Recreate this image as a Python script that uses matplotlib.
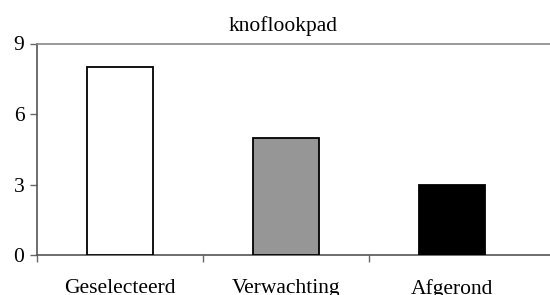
import matplotlib.pyplot as plt
import numpy as np

plt.rcParams['font.family'] = ['Liberation Serif', 'DejaVu Serif']

categorieen = ["Geselecteerd", "Verwachting", "Afgerond"]
waarden = [8, 5, 3]
kleuren = ["#ffffff", "#969696", "#000000"]
y_ticks = [0, 3, 6, 9]

fig = plt.figure(figsize=(5.5, 2.95), dpi=100)
ax = fig.add_axes([37 / 550, 1 - 255 / 295, 513 / 550, 211.5 / 295])

x = np.arange(len(categorieen))
ax.bar(x, waarden, width=0.4, color=kleuren, edgecolor="black", linewidth=1.3, zorder=3)

ax.set_xlim(-0.5, 2.59)
ax.set_ylim(0, 9)
ax.set_yticks(y_ticks)
ax.set_xticks([-0.5, 0.5, 1.5])
ax.set_xticklabels([])
ax.set_xticks(x, minor=True)
ax.set_xticklabels(categorieen, minor=True)
ax.tick_params(axis="x", which="minor", length=0, pad=17, labelsize=15.5)
ax.tick_params(axis="x", which="major", length=5, width=1, color="#666666")
ax.tick_params(axis="y", length=5, width=1, color="#666666", labelsize=15.5, pad=4)

for s in ["left", "bottom"]:
    ax.spines[s].set_color("#555555")
    ax.spines[s].set_linewidth(1.2)
ax.spines["top"].set_color("#888888")
ax.spines["top"].set_linewidth(1.2)
ax.spines["right"].set_visible(False)

fig.text(283 / 550, 1 - 26 / 295, "knoflookpad", ha="center", va="center", fontsize=15.5)

fig.savefig("out.png", dpi=100)
